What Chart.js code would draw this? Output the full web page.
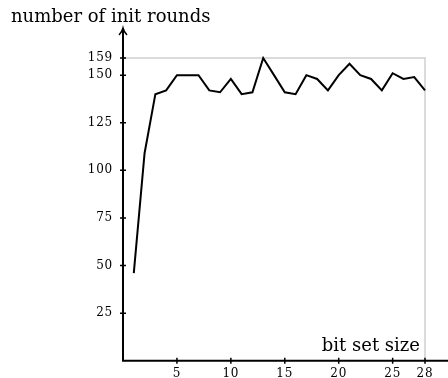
<!DOCTYPE html>
<html>
<head>
<meta charset="utf-8">
<script src="https://cdn.jsdelivr.net/npm/chart.js@4.4.1/dist/chart.umd.min.js"></script>
<style>
  html, body { margin: 0; padding: 0; background: #fff; }
  #wrap { width: 448px; height: 378px; }
</style>
</head>
<body>
<div id="wrap"><canvas id="initChart" width="448" height="378"></canvas></div>
<script>
// bit set size on x, number of init rounds on y
let bitSizes = [1,2,3,4,5,6,7,8,9,10,11,12,13,14,15,16,17,18,19,20,21,22,23,24,25,26,27,28];
let initRounds = [46,109,140,142,150,150,150,142,141,148,140,141,159,150,141,140,150,148,142,150,156,150,148,142,151,148,149,142];
let xTicks = [5,10,15,20,25,28];
let yTicks = [25,50,75,100,125,150,159];
let xTitle = 'bit set size';
let yTitle = 'number of init rounds';

let serif = "'DejaVu Serif', serif";

// axes with arrow, crossing tick marks, grey frame at the top/right
let axesPlugin = {
  id: 'axesPlugin',
  beforeDraw(chart) {
    // a little wider spacing for the tick numbers, like the original
    chart.ctx.letterSpacing = '0.8px';
  },
  beforeDatasetsDraw(chart) {
    let ctx = chart.ctx;
    let a = chart.chartArea;
    ctx.save();
    ctx.strokeStyle = '#d0d0d0';
    ctx.lineWidth = 1.5;
    ctx.beginPath();
    ctx.moveTo(a.left, a.top);
    ctx.lineTo(a.right, a.top);
    ctx.lineTo(a.right, a.bottom);
    ctx.stroke();
    ctx.restore();
  },
  afterDatasetsDraw(chart) {
    let ctx = chart.ctx;
    let a = chart.chartArea;
    let xs = chart.scales.x, ys = chart.scales.y;
    ctx.save();
    ctx.letterSpacing = '0px';
    ctx.strokeStyle = '#000';
    ctx.lineWidth = 2;
    ctx.beginPath();
    ctx.moveTo(a.left, a.bottom);
    ctx.lineTo(a.left, 30);
    ctx.moveTo(a.left - 1, a.bottom);
    ctx.lineTo(448, a.bottom);
    ctx.stroke();
    // arrow head
    ctx.lineWidth = 1.5;
    ctx.beginPath();
    ctx.moveTo(a.left - 4, 35);
    ctx.quadraticCurveTo(a.left - 1, 32, a.left, 28);
    ctx.quadraticCurveTo(a.left + 1, 32, a.left + 4, 35);
    ctx.stroke();
    // tick marks
    ctx.lineWidth = 1.5;
    ctx.beginPath();
    yTicks.forEach(v => {
      let y = ys.getPixelForValue(v);
      ctx.moveTo(a.left - 3, y);
      ctx.lineTo(a.left + 3, y);
    });
    xTicks.forEach(v => {
      let x = xs.getPixelForValue(v);
      ctx.moveTo(x, a.bottom - 3);
      ctx.lineTo(x, a.bottom + 3);
    });
    ctx.stroke();
    // axis titles
    ctx.fillStyle = '#000';
    ctx.font = '18px ' + serif;
    ctx.textBaseline = 'alphabetic';
    ctx.textAlign = 'left';
    ctx.fillText(yTitle, 11, 22);
    ctx.textAlign = 'right';
    ctx.fillText(xTitle, a.right - 5, a.bottom - 10);
    ctx.restore();
  }
};

new Chart(document.getElementById('initChart'), {
  type: 'line',
  data: {
    datasets: [{
      data: bitSizes.map((b, i) => ({ x: b, y: initRounds[i] })),
      borderColor: '#000',
      borderWidth: 2,
      pointRadius: 0,
      tension: 0,
      fill: false,
      clip: false
    }]
  },
  options: {
    responsive: false,
    animation: false,
    events: [],
    layout: { padding: { top: 58, right: 23, left: 0, bottom: 0 } },
    plugins: { legend: { display: false }, tooltip: { enabled: false } },
    scales: {
      x: {
        type: 'linear',
        min: 0,
        max: 28,
        grid: { display: false, drawTicks: false },
        border: { display: false },
        afterBuildTicks: s => { s.ticks = xTicks.map(v => ({ value: v })); },
        afterFit: s => { s.height = 17; },
        ticks: { color: '#000', padding: 6, maxRotation: 0, autoSkip: false, font: { family: serif, size: 12 } }
      },
      y: {
        type: 'linear',
        min: 0,
        max: 159,
        grid: { display: false, drawTicks: false },
        border: { display: false },
        afterBuildTicks: s => { s.ticks = yTicks.map(v => ({ value: v })); },
        afterFit: s => { s.width = 123; },
        ticks: { color: '#000', padding: 10, autoSkip: false, font: { family: serif, size: 12 } }
      }
    }
  },
  plugins: [axesPlugin]
});
</script>
</body>
</html>
